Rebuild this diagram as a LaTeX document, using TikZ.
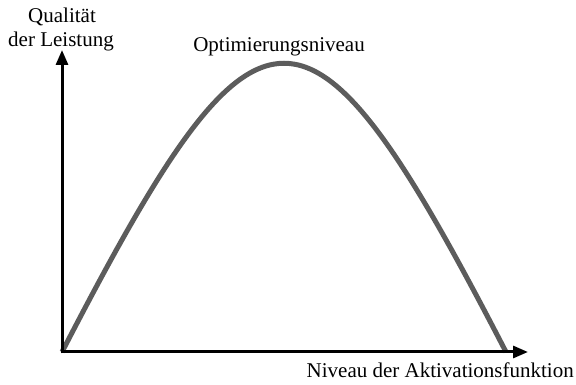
\documentclass[tikz,border=0pt]{standalone}
\usepackage{fontspec}
\setmainfont{Liberation Serif}
\usetikzlibrary{arrows.meta}
\definecolor{curvegray}{RGB}{92,92,92}
\begin{document}
\begin{tikzpicture}[x=1pt,y=1pt,
  axis/.style={line width=3pt,-{Triangle[length=15pt,width=12pt]}},
  curveline/.style={line width=5pt,curvegray},
  lbl/.style={font=\fontsize{21}{24}\selectfont,inner sep=0pt}]
\useasboundingbox (0,0) rectangle (576,385);
\coordinate (o) at (62,33);
\coordinate (ytip) at (62,335);
\coordinate (xtip) at (528,33);
\coordinate (cend) at (506,33);
\draw[curveline] (o) .. controls (261,418) and (307,418) .. (cend);
\draw[axis] ([yshift=-1.5pt]o) -- (ytip);
\draw[axis] ([xshift=-1.5pt]o) -- (xtip);
\node[lbl,anchor=base] (q1) at (62,362) {Qualität};
\node[lbl,anchor=base] (q2) at (61,338) {der Leistung};
\node[lbl,anchor=base] (opt) at (279,333) {Optimierungsniveau};
\node[lbl,anchor=base east] (xl) at (574,7) {Niveau der Aktivationsfunktion};
\end{tikzpicture}
\end{document}
